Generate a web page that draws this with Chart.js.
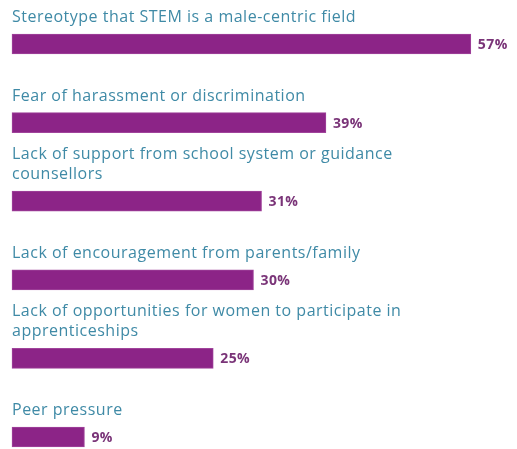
<!DOCTYPE html>
<html>
<head>
<meta charset="utf-8">
<script src="https://cdn.jsdelivr.net/npm/chart.js@4/dist/chart.umd.min.js"></script>
<style>
  html, body { margin: 0; padding: 0; background: #fff; }
  #wrap { width: 517px; height: 449px; }
</style>
</head>
<body>
<div id="wrap"><canvas id="myChart"></canvas></div>
<script>
const reasons = [
  ['Stereotype that STEM is a male-centric field'],
  ['Fear of harassment or discrimination'],
  ['Lack of support from school system or guidance', 'counsellors'],
  ['Lack of encouragement from parents/family'],
  ['Lack of opportunities for women to participate in', 'apprenticeships'],
  ['Peer pressure']
];
const shares = [57, 39, 31, 30, 25, 9];

// labels above each bar and the % at its end
const barText = {
  id: 'barText',
  afterDatasetsDraw(chart) {
    const ctx = chart.ctx;
    const meta = chart.getDatasetMeta(0);
    ctx.save();
    meta.data.forEach((bar, i) => {
      const top = bar.y - bar.height / 2;
      const lines = reasons[i];
      ctx.font = '16px "Open Sans"';
      ctx.letterSpacing = '0.5px';
      ctx.fillStyle = '#3f8aa6';
      ctx.textAlign = 'left';
      ctx.textBaseline = 'alphabetic';
      lines.forEach((line, j) => {
        const y = top - 12 - (lines.length - 1 - j) * 20;
        ctx.fillText(line, bar.base, y);
      });
      ctx.font = 'bold 14px "Open Sans"';
      ctx.letterSpacing = '0.4px';
      ctx.fillStyle = '#7a3478';
      ctx.textBaseline = 'middle';
      ctx.fillText(shares[i] + '%', bar.x + 7, bar.y + 1);
    });
    ctx.restore();
  }
};

new Chart('myChart', {
  type: 'bar',
  data: {
    labels: reasons,
    datasets: [{
      data: shares,
      backgroundColor: '#8c2487',
      borderColor: '#a0449b',
      borderWidth: 1,
      borderSkipped: false,
      barThickness: 20,
      clip: false
    }]
  },
  options: {
    indexAxis: 'y',
    responsive: true,
    maintainAspectRatio: false,
    animation: false,
    layout: { padding: { top: 44, bottom: 12, left: 12, right: 22 } },
    scales: {
      x: { display: false, min: 0, max: 60 },
      y: { display: false, offset: false }
    },
    plugins: {
      legend: { display: false },
      tooltip: { enabled: false }
    }
  },
  plugins: [barText]
});
</script>
</body>
</html>
